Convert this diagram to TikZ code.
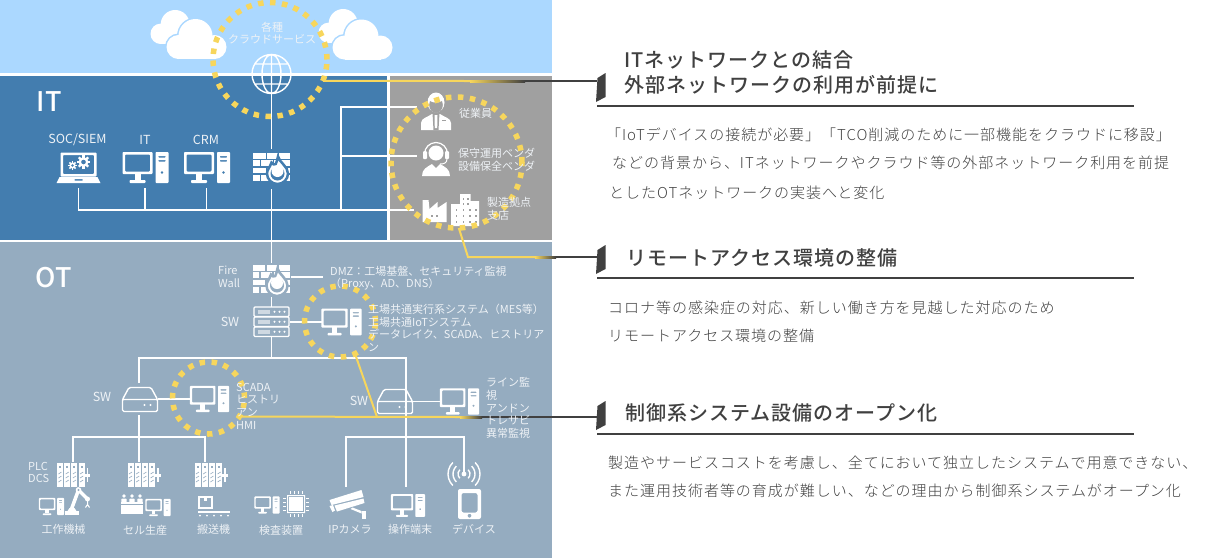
\documentclass[tikz,border=0pt]{standalone}
\usepackage{fontspec}
\setmainfont{Noto Sans CJK JP}
\newfontfamily\headfont[LetterSpace=5]{Noto Sans CJK JP Medium}
\newfontfamily\bodyfont[LetterSpace=6.5]{Noto Sans CJK JP Light}
\newfontfamily\bigfont[LetterSpace=3]{Noto Sans CJK JP Medium}
\definecolor{cloudbg}{HTML}{ABD8FF}
\definecolor{itbg}{HTML}{437DAF}
\definecolor{greybg}{HTML}{A0A0A0}
\definecolor{otbg}{HTML}{95ACC0}
\definecolor{ringyellow}{HTML}{F7D65C}
\definecolor{inkdark}{HTML}{404040}
\definecolor{fadeblue}{HTML}{9CC7D6}
\definecolor{labelwhite}{HTML}{EEF2F6}
\tikzset{
	icon node/.style={inner sep=0pt,outer sep=0pt},
	wire/.style={draw=white,line width=1.2pt},
	ring node/.style={circle,draw=ringyellow,line width=5.5pt,dash pattern=on 5.5pt off 6.5pt,inner sep=0pt,outer sep=0pt},
	yellow line/.style={draw=ringyellow,line width=2pt},
	dark line/.style={draw=inkdark,line width=2pt},
	label node/.style={text=labelwhite,font=\fontsize{11}{12.7}\selectfont,inner sep=0pt,align=left},
	wide label/.style={label node,font=\fontsize{12.5}{14}\selectfont},
	big node/.style={text=white,font=\bigfont\fontsize{27}{30}\selectfont,inner sep=0pt},
	head node/.style={text=inkdark,font=\headfont\fontsize{20}{25}\selectfont,inner sep=0pt,anchor=west,align=left},
	body node/.style={text=inkdark,font=\bodyfont\fontsize{15}{18}\selectfont,inner sep=0pt,anchor=west},
	pics/pc/.style={code={
		\fill[white,even odd rule,rounded corners=.8pt] (-23,-15.5) rectangle (7,6.5) (-20.5,-13) rectangle (4.5,4);
		\fill[white] (-11,6) rectangle (-5,12.5);
		\fill[white,rounded corners=.8pt] (-16,12.5) rectangle (0,15.5);
		\fill[white,even odd rule,rounded corners=.8pt] (10,-15.5) rectangle (23,15.5) (12.5,-11.5) rectangle (20.5,-10) (12.5,-7.5) rectangle (20.5,-6) (16.5,5) circle (1.6);
	}},
	pics/gear/.style={code={
		\fill[white,even odd rule] (0,0) circle (7) (0,0) circle (3.5);
		\foreach \a in {0,45,...,315} {\fill[white,rotate=\a] (6,-1.6) rectangle (9.5,1.6);}
	}},
	pics/laptop/.style={code={
		\fill[white,even odd rule,rounded corners=.8pt] (-18,-15) rectangle (18,9) (-15.5,-12.5) rectangle (15.5,6.5);
		\fill[white,even odd rule] (-22,15.5) -- (-19,9.5) -- (19,9.5) -- (22,15.5) -- cycle (-4,11.5) rectangle (4,13);
		\pic[scale=.7] at (5,-5.5) {gear};
		\pic[scale=.45] at (-6,-2) {gear};
	}},
	pics/firewall/.style={code={
		\foreach \xa/\xb/\ya in {-18.5/-6/-14.5,-4.5/6/-14.5,7.5/18.5/-14.5,-18.5/-12/-7.2,-10.5/1/-7.2,2.5/18.5/-7.2,-18.5/-6/0,-4.5/6/0,7.5/18.5/0,-18.5/-12/7.3,-10.5/1/7.3,2.5/18.5/7.3} {\fill[white] (\xa,\ya) rectangle (\xb,\ya+5.8);}
		\draw[draw=#1,fill=white,line width=2.5pt] (6.5,-11) .. controls (8,-5) and (16.5,-1) .. (16.5,6) arc (0:180:10.5) .. controls (-4.5,2) and (-1.5,0) .. (0,-5) .. controls (1.5,-3) and (3,-2.5) .. (4,-3) .. controls (5,-5) and (6,-8) .. (6.5,-11) -- cycle;
		\fill[#1] (6,6) circle (7);
		\fill[white] (6,3.5) circle (6);
	}},
	pics/cloud/.style={code={
		\draw[cloudbg,line width=3pt] (-18,8) circle (12);
		\draw[cloudbg,line width=3pt] (-1,-3) circle (17);
		\draw[cloudbg,line width=3pt] (18,8) circle (12);
		\draw[cloudbg,line width=3pt] (-18,20) -- (18,20);
		\fill[white] (-18,8) circle (12);
		\fill[white] (-1,-3) circle (17);
		\fill[white] (18,8) circle (12);
		\fill[white] (-18,8) rectangle (18,20);
	}},
	pics/globe/.style={code={
		\draw[white,line width=1.4pt] (0,0) circle (19.5) (0,0) ellipse (9.5 and 19.5) (0,-19.5) -- (0,19.5) (-19.5,0) -- (19.5,0) (-16.5,-10) -- (16.5,-10) (-16.5,10) -- (16.5,10);
	}},
	pics/staff/.style={code={
		\fill[white] (-15,18) -- (-15,11) .. controls (-15,6) and (-8,5) .. (-4,2) -- (4,2) .. controls (8,5) and (15,6) .. (15,11) -- (15,18) -- cycle;
		\fill[greybg] (-3.5,1) -- (3.5,1) -- (2.5,18) -- (-2.5,18) -- cycle;
		\fill[white] (-1.5,3) -- (1.5,3) -- (1.2,16) -- (-1.2,16) -- cycle;
		\fill[greybg] (6,8) rectangle (10,9);
		\fill[white] (0,-9.5) ellipse (8.5 and 10);
		\fill[greybg] (0,-7) ellipse (6.8 and 7.9);
		\fill[white] (0,-13) ellipse (7 and 3.5);
	}},
	pics/vendor/.style={code={
		\fill[white] (-14,17) .. controls (-14,10) and (-9,8) .. (-4,5) -- (0,9) -- (4,5) .. controls (9,8) and (14,10) .. (14,17) -- cycle;
		\fill[white] (0,-6) circle (7.5);
		\draw[white,line width=1.2pt] (-11.5,-5) arc (180:360:11.5);
		\fill[white,rounded corners=1pt] (-13,-8) rectangle (-9,0);
		\fill[white,rounded corners=1pt] (9,-8) rectangle (13,0);
		\draw[white,line width=1pt] (11,0) .. controls (11,4) and (8,5) .. (4,5);
	}},
	pics/factory/.style={code={
		\fill[white] (-12,12) -- (-12,-10) -- (-6,-10) -- (-5,-1) -- (3,-8) -- (3,-2) -- (12,-8) -- (12,12) -- cycle;
		\foreach \x in {-4,1} {\fill[greybg] (\x,5) rectangle (\x+2,7);}
	}},
	pics/building/.style={code={
		\fill[white] (-14,16) -- (-14,-6) -- (-5,-6) -- (-5,-16) -- (5.5,-16) -- (5.5,-9) -- (14,-9) -- (14,16) -- cycle;
		\foreach \x in {-9.5,-2.5,4,10} {\foreach \y in {-1,5,11} {\fill[greybg] (\x,\y) rectangle (\x+1.8,\y+1.8);}}
		\foreach \x in {-2.5,2} {\fill[greybg] (\x,-12) rectangle (\x+1.8,-10.2);\fill[greybg] (\x,-7) rectangle (\x+1.8,-5.2);}
	}},
	pics/rack/.style={code={
		\foreach \y in {-15,-5,5} {
			\draw[white,line width=1.2pt,rounded corners=1pt] (-17.5,\y) rectangle (17.5,\y+9.5);
			\fill[white,opacity=.55] (-14,\y+3) rectangle (-2,\y+6.5);
			\foreach \x in {3,8,13} {\fill[white] (\x,\y+4.7) circle (1.1);}
		}
	}},
	pics/hub/.style={code={
		\draw[white,line width=1.4pt,rounded corners=1.5pt] (-17.5,0) -- (-11,-12) -- (11,-12) -- (17.5,0) -- (17.5,12) -- (-17.5,12) -- cycle (-17.5,0) -- (17.5,0);
		\fill[white] (4.5,5.5) circle (1.2) (10.5,5.5) circle (1.2);
	}},
	pics/plc/.style={code={
		\foreach \x in {0,1,2,3} {
			\fill[white] (-16.5+\x*7.2,-12) rectangle (-10.5+\x*7.2,12);
			\fill[otbg] (-14.5+\x*7.2,-9) rectangle (-12.5+\x*7.2,-7);
			\foreach \y in {-2,2,6} {\draw[otbg,line width=.6pt] (-15+\x*7.2,\y+1) -- (-12+\x*7.2,\y-1);}
		}
		\fill[white] (13,-7) rectangle (14.6,7);
		\fill[white] (11,-1) rectangle (16.5,2);
	}},
	pics/robot/.style={code={
		\fill[white] (-13.5,13.5) rectangle (0,10);
		\fill[white] (-11,10) -- (-9,7) -- (-4,7) -- (-2,10) -- cycle;
		\draw[white,line width=3.5pt] (-7,8) -- (0,-11) -- (9,-2);
		\fill[white] (0,-11) circle (2.8);
		\fill[otbg] (0,-11) circle (1.2);
		\fill[white] (9,-2) circle (2.5);
		\draw[white,line width=1pt] (9,-1) -- (9,4) (7,6.5) -- (9,3.5) -- (11,6.5);
	}},
	pics/cell/.style={code={
		\foreach \x in {-8,0,8} {
			\fill[white] (\x,-8) circle (1.9);
			\fill[white,rounded corners=.8pt] (\x-2.7,-5.5) rectangle (\x+2.7,-1);
		}
		\fill[white] (-11,-2) rectangle (11,10);
		\draw[otbg,line width=.6pt] (-11,0) -- (11,0);
	}},
	pics/conveyor/.style={code={
		\draw[white,line width=1.2pt] (-15,-10) rectangle (-2,1);
		\fill[white] (-10,-10) rectangle (-7,-6);
		\draw[white,line width=2pt] (-16,5) -- (16,5);
		\foreach \x in {-14,-7,0,7,14} {\fill[white] (\x,8.5) circle (1);}
	}},
	pics/chip/.style={code={
		\fill[white,even odd rule] (-9,-9) rectangle (9,9) (-8,-8) rectangle (8,8);
		\fill[white] (-6.8,-6.8) rectangle (6.8,6.8);
		\foreach \a in {-6,-2,2,6} {
			\draw[white,line width=1pt] (\a,-13) -- (\a,-10) (\a,10) -- (\a,13) (-13,\a) -- (-10,\a) (10,\a) -- (13,\a);
		}
	}},
	pics/camera/.style={code={
		\fill[white] (-18,-4.5) -- (14,-14.5) -- (16,-7.5) -- (-16,0.5) -- cycle;
		\fill[white] (-13,1) -- (16,-6) -- (17,-1.5) -- (-10.5,7) -- cycle;
		\fill[white] (-18,1.5) -- (-14.5,0.5) -- (-12.5,6) -- (-15,7.5) -- cycle;
		\fill[white] (3,4.5) -- (5,3) -- (14,6.5) -- (14,9) -- cycle;
		\fill[white] (14,6) rectangle (18.5,14.5);
	}},
	pics/tablet/.style={code={
		\fill[white,even odd rule,rounded corners=2pt] (-11.5,-15) rectangle (11.5,15) (-8,-11) rectangle (8,8.5) (0,11.7) circle (2);
	}},
	pics/wifi/.style={code={
		\foreach \r in {6,11,16} {
			\draw[white,line width=1.4pt] ({\r*cos(46)},{\r*sin(46)}) arc (46:-46:\r);
			\draw[white,line width=1.4pt] ({\r*cos(134)},{\r*sin(134)}) arc (134:226:\r);
		}
	}},
	pics/flag/.style={code={
		\fill[inkdark] (0,0) -- (9.5,-5) -- (9.5,-29) -- (1.5,-24) -- cycle;
	}},
}
\begin{document}
\begin{tikzpicture}[x=1pt,y=-1pt,node distance=61.5pt]
	\useasboundingbox (0,0) rectangle (1210,558);

	\fill[cloudbg] (0,0) rectangle (552,73);
	\fill[itbg] (0,76) rectangle (387,240);
	\fill[greybg] (390,76) rectangle (552,240);
	\fill[otbg] (0,242) rectangle (552,558);

	\pic[scale=.85] at (176,27) {cloud};
	\pic at (196.5,39) {cloud};
	\pic[scale=.85] at (344,26) {cloud};
	\pic at (362.5,39.5) {cloud};

	\node[icon node,circle,minimum size=40pt] (globe) at (271.5,74) {};
	\node[icon node,minimum width=40pt,minimum height=40pt] (fwit) at (271.5,169) {};
	\node[icon node,minimum width=44pt,minimum height=36pt] (laptop) at (78.5,170) {};
	\node[icon node,minimum width=46pt,minimum height=36pt] (pcit) [right of=laptop, node distance=66.5pt] {};
	\node[icon node,minimum width=46pt,minimum height=36pt] (pccrm) [right of=pcit] {};
	\node[icon node,minimum width=38pt,minimum height=30pt] (staff) at (436,107) {};
	\node[icon node,minimum width=38pt,minimum height=30pt] (vendor) [below of=staff, node distance=49pt] {};
	\node[icon node,minimum width=42pt,minimum height=24pt] (factory) at (434.5,210) {};
	\node[icon node,minimum width=28pt,minimum height=32pt] (building) [right of=factory, node distance=30.5pt] {};

	\node[icon node,minimum width=38pt,minimum height=34pt] (fwot) at (271.5,280) {};
	\node[icon node,minimum width=36pt,minimum height=30pt] (rack) [below of=fwot, node distance=42pt] {};
	\node[icon node,minimum width=39pt,minimum height=30pt] (pcmes) [right of=rack, node distance=70pt] {};
	\node[icon node,minimum width=38pt,minimum height=32pt] (hubleft) at (139,399) {};
	\node[icon node,minimum width=40pt,minimum height=30pt] (pcleft) [right of=hubleft, node distance=70.5pt] {};
	\node[icon node,minimum width=36pt,minimum height=26pt] (hubright) at (395,401.5) {};
	\node[icon node,minimum width=39pt,minimum height=30pt] (pcright) [right of=hubright, node distance=64.5pt] {};

	\node[icon node,minimum width=33pt,minimum height=26pt] (plca) at (73,475) {};
	\node[icon node,minimum width=33pt,minimum height=26pt] (plcb) [right of=plca, node distance=66pt] {};
	\node[icon node,minimum width=33pt,minimum height=26pt] (plcc) [right of=plcb, node distance=66pt] {};
	\node[icon node,minimum width=37pt,minimum height=36pt] (camera) at (346,505) {};
	\node[icon node,minimum width=34pt,minimum height=38pt] (terminal) at (406,506) {};
	\node[icon node,circle,minimum size=4pt] (wifi) at (464,474) {};

	\coordinate (branch) at (341,210);
	\coordinate (fork) at (271.5,358);
	\coordinate (uplink) at (406,383);
	\coordinate (downlink) at (406,417);
	\coordinate (dmz) at (323,277);
	\coordinate (busleft) at (139,437);
	\coordinate (busright) at (406,437);

	\path[wire]
		(globe) edge (fwit)
		(fwit) edge (fwot)
		(fwot) edge (rack)
		(rack) edge (pcmes)
		(rack) edge (fork)
		(hubleft) edge (pcleft)
		(hubright) edge (pcright)
		(fwot.east |- dmz) edge (dmz)
		(pcit.south) edge (pcit.south |- factory.west)
		(pccrm.south) edge (pccrm.south |- factory.west)
		(uplink) edge (downlink -| uplink)
		;
	\draw[wire] (laptop.south) |- (factory.west);
	\draw[wire] (branch) |- (staff.west);
	\draw[wire] (branch) |- (vendor.west);
	\draw[wire] (hubleft.north) |- (fork) -| (uplink);
	\draw[wire] (hubleft.south) -- (busleft);
	\draw[wire] (plca.north) |- (busleft) -| (plcc.north);
	\draw[wire] (busleft) -- (plcb.north);
	\draw[wire] (downlink) -- (terminal.north);
	\draw[wire] (camera.north) |- (busright) -| (wifi.center);

	\pic at (globe) {globe};
	\pic at (271.5,167.5) {firewall=itbg};
	\pic at (78.5,167.5) {laptop};
	\pic at (145.5,167.5) {pc};
	\pic at (207,167.5) {pc};
	\pic at (436,112) {staff};
	\pic at (436,159) {vendor};
	\pic at (factory) {factory};
	\pic at (building.center) {building};
	\pic at (271,279.5) {firewall=otbg};
	\pic at (rack) {rack};
	\pic[scale=.87] at (pcmes) {pc};
	\pic at (140,399.5) {hub};
	\pic[scale=.85] at (pcleft) {pc};
	\pic at (395,401.5) {hub};
	\pic[scale=.85] at (pcright) {pc};
	\pic at (73.5,475) {plc};
	\pic at (144,475) {plc};
	\pic at (211,475) {plc};
	\pic[scale=.55] at (51.5,506.5) {pc};
	\pic at (78.5,501) {robot};
	\pic at (132,504) {cell};
	\pic[scale=.55] at (158,507.5) {pc};
	\pic at (214,507) {conveyor};
	\pic[scale=.55] at (267,505) {pc};
	\pic at (296,504) {chip};
	\pic at (347.5,504.5) {camera};
	\pic[scale=.74] at (408,505.5) {pc};
	\pic at (469.5,504) {tablet};
	\pic at (wifi) {wifi};
	\fill[white] (wifi) circle (2.4);

	\node[ring node,minimum size=114pt] (ringa) at (270,59.5) {};
	\node[ring node,minimum size=131pt] (ringb) at (456.5,162.5) {};
	\node[ring node,minimum size=71pt] (ringc) at (340,321.5) {};
	\node[ring node,minimum size=72pt] (ringd) at (208.5,398) {};

	\coordinate (flaga) at (597,81);
	\coordinate (flagb) at (597,257);
	\coordinate (flagc) at (597,417);
	\coordinate (fadea) at (470,81);
	\coordinate (fadeb) at (535,257);
	\coordinate (fadec) at (460,417);
	\coordinate (kneeb) at (468,257);
	\coordinate (kneec) at (377,417);

	\draw[yellow line] (ringa.-22) -- (fadea);
	\shade[left color=ringyellow,middle color=fadeblue,right color=inkdark] (470,80) rectangle (525,82);
	\draw[dark line] (525,81) -- (flaga);
	\draw[yellow line] (ringb.-88) -- (kneeb) -- (fadeb);
	\shade[left color=ringyellow,middle color=fadeblue,right color=inkdark] (535,256) rectangle (556,258);
	\draw[dark line] (556,257) -- (flagb);
	\draw[yellow line] (ringc.-65) -- (kneec);
	\draw[yellow line] (ringd.-31.5) -- (fadec);
	\shade[left color=ringyellow,middle color=fadeblue,right color=inkdark] (460,416) rectangle (482,418);
	\draw[dark line] (482,417) -- (flagc);

	\pic at (596,102) {flag};
	\pic at (596,274) {flag};
	\pic at (596,430) {flag};
	\draw[dark line] (597,106) -- (1134,106);
	\draw[dark line] (597,278) -- (1134,278);
	\draw[dark line] (597,434) -- (1134,434);

	\node[big node,anchor=west] (itlabel) at (36,102) {IT};
	\node[big node,anchor=west] (otlabel) at (35,278) {OT};

	\node[label node,align=center] (cloudlabel) at (272,33) {各種\\クラウドサービス};
	\node[wide label] (soclabel) at (77.5,140) {SOC/SIEM};
	\node[wide label] (itpclabel) [right of=soclabel, node distance=67.5pt] {IT};
	\node[wide label] (crmlabel) at (206,140) {CRM};
	\node[label node,anchor=west] (stafflabel) at (459,113) {従業員};
	\node[label node,anchor=west] (vendorlabel) at (458,159.5) {保守運用ベンダ\\設備保全ベンダ};
	\node[label node,anchor=west] (sitelabel) at (487,208.5) {製造拠点\\支店};
	\node[label node,anchor=west] (fwlabel) at (218,276.5) {Fire\\Wall};
	\node[label node,anchor=west] (dmzlabel) at (330,278) {DMZ：工場基盤、セキュリティ監視\\（Proxy、AD、DNS）};
	\node[wide label] (swtop) at (230,322) {SW};
	\node[label node,anchor=west] (meslabel) at (368,328) {工場共通実行系システム（MES等）\\工場共通IoTシステム\\データレイク、SCADA、ヒストリア\\ン};
	\node[wide label] (swleft) at (102,397) {SW};
	\node[label node,anchor=west] (scadalabel) at (236,406) {SCADA\\ヒストリ\\アン\\HMI};
	\node[wide label] (swright) at (359,401) {SW};
	\node[label node,anchor=west] (linelabel) at (486,408) {ライン監\\視\\アンドン\\トレサビ\\異常監視};
	\node[label node,anchor=west] (plclabel) at (28,472.5) {PLC\\DCS};

	\node[label node] (toola) at (63.5,529) {工作機械};
	\node[label node] (toolb) at (145,530) {セル生産};
	\node[label node] (toolc) at (213.5,529) {搬送機};
	\node[label node] (toold) at (281,530) {検査装置};
	\node[label node] (toole) at (350,529) {IPカメラ};
	\node[label node] (toolf) at (410,529) {操作端末};
	\node[label node] (toolg) at (474,529) {デバイス};

	\node[head node] (heada) at (624,72.5) {ITネットワークとの結合\\外部ネットワークの利用が前提に};
	\node[head node] (headb) at (626,258) {リモートアクセス環境の整備};
	\node[head node] (headc) at (625,413) {制御系システム設備のオープン化};

	\node[body node] (bodya) at (606,135) {「IoTデバイスの接続が必要」「TCO削減のために一部機能をクラウドに移設」};
	\node[body node] (bodyb) at (612,163) {などの背景から、ITネットワークやクラウド等の外部ネットワーク利用を前提};
	\node[body node] (bodyc) at (609,193) {としたOTネットワークの実装へと変化};
	\node[body node] (bodyd) at (608,308) {コロナ等の感染症の対応、新しい働き方を見越した対応のため};
	\node[body node] (bodye) at (608,336) {リモートアクセス環境の整備};
	\node[body node] (bodyf) at (608,463) {製造やサービスコストを考慮し、全てにおいて独立したシステムで用意できない、};
	\node[body node] (bodyg) at (608,491) {また運用技術者等の育成が難しい、などの理由から制御系システムがオープン化};
\end{tikzpicture}
\end{document}
